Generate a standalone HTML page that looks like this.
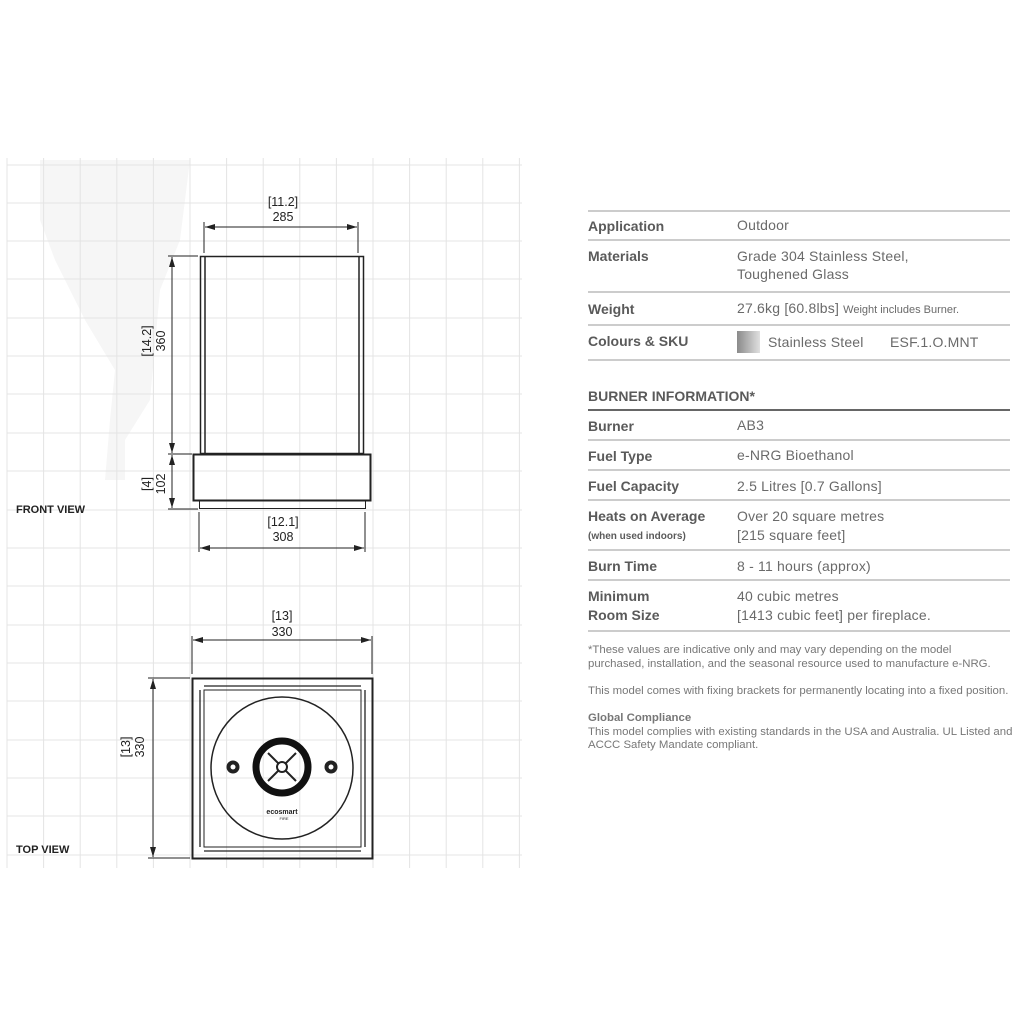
<!DOCTYPE html>
<html><head><style>
html,body{margin:0;padding:0;background:#fff;}
svg{display:block;}
text{font-family:"Liberation Sans",Arial,sans-serif;}
.l{font-weight:bold;fill:#5a5a5a;font-size:14px;}
.v{fill:#6a6a6a;font-size:14px;letter-spacing:0.2px;}
.d{fill:#222;font-size:12.5px;}
.s{fill:#777;font-size:11.4px;}
</style></head><body>
<svg width="1024" height="1024" viewBox="0 0 1024 1024" xmlns="http://www.w3.org/2000/svg">
<defs>
<marker id="a" viewBox="0 0 10 6" refX="10" refY="3" markerWidth="10" markerHeight="6" orient="auto-start-reverse" markerUnits="userSpaceOnUse"><path d="M0,0 L10,3 L0,6 z" fill="#222"/></marker>
<linearGradient id="g" x1="0" x2="1"><stop offset="0" stop-color="#8a8a8a"/><stop offset="1" stop-color="#e0e0e0"/></linearGradient>
</defs>
<!-- shadow blob -->
<path d="M40,160 L190,160 L180,240 L160,290 L150,400 L125,440 L125,480 L105,480 L110,420 L115,370 L85,320 L55,260 L40,220 Z" fill="#f6f6f6"/>
<!-- grid -->
<g stroke="#e4e4e4" stroke-width="1">
<line x1="7" y1="158" x2="7" y2="868"/><line x1="43.6" y1="158" x2="43.6" y2="868"/><line x1="80.2" y1="158" x2="80.2" y2="868"/><line x1="116.8" y1="158" x2="116.8" y2="868"/><line x1="153.4" y1="158" x2="153.4" y2="868"/><line x1="190" y1="158" x2="190" y2="868"/><line x1="226.6" y1="158" x2="226.6" y2="868"/><line x1="263.2" y1="158" x2="263.2" y2="868"/><line x1="299.8" y1="158" x2="299.8" y2="868"/><line x1="336.4" y1="158" x2="336.4" y2="868"/><line x1="373" y1="158" x2="373" y2="868"/><line x1="409.6" y1="158" x2="409.6" y2="868"/><line x1="446.2" y1="158" x2="446.2" y2="868"/><line x1="482.8" y1="158" x2="482.8" y2="868"/><line x1="519.4" y1="158" x2="519.4" y2="868"/>
<line x1="7" y1="165" x2="522" y2="165"/><line x1="7" y1="203" x2="522" y2="203"/><line x1="7" y1="241" x2="522" y2="241"/><line x1="7" y1="279" x2="522" y2="279"/><line x1="7" y1="318" x2="522" y2="318"/><line x1="7" y1="356" x2="522" y2="356"/><line x1="7" y1="394" x2="522" y2="394"/><line x1="7" y1="433" x2="522" y2="433"/><line x1="7" y1="471" x2="522" y2="471"/><line x1="7" y1="510" x2="522" y2="510"/><line x1="7" y1="548" x2="522" y2="548"/><line x1="7" y1="586" x2="522" y2="586"/><line x1="7" y1="625" x2="522" y2="625"/><line x1="7" y1="663" x2="522" y2="663"/><line x1="7" y1="701" x2="522" y2="701"/><line x1="7" y1="740" x2="522" y2="740"/><line x1="7" y1="778" x2="522" y2="778"/><line x1="7" y1="816" x2="522" y2="816"/><line x1="7" y1="855" x2="522" y2="855"/>
</g>
<!-- FRONT VIEW -->
<g stroke="#222" fill="none">
<rect x="200.5" y="256.5" width="163" height="197" stroke-width="1.5"/>
<line x1="205" y1="257" x2="205" y2="454" stroke-width="1.5"/>
<line x1="359" y1="257" x2="359" y2="454" stroke-width="1.5"/>
<rect x="193.5" y="454.5" width="177" height="46" stroke-width="2"/>
<rect x="199.5" y="500.5" width="166" height="8" stroke-width="1"/>
<g stroke-width="1">
<line x1="204" y1="222" x2="204" y2="253"/><line x1="358" y1="222" x2="358" y2="253"/>
<line x1="205" y1="227" x2="357" y2="227" marker-start="url(#a)" marker-end="url(#a)"/>
<line x1="168" y1="256" x2="198" y2="256"/><line x1="168" y1="454" x2="192" y2="454"/><line x1="168" y1="509" x2="198" y2="509"/>
<line x1="172" y1="257" x2="172" y2="453" marker-start="url(#a)" marker-end="url(#a)"/>
<line x1="172" y1="455" x2="172" y2="508" marker-start="url(#a)" marker-end="url(#a)"/>
<line x1="199" y1="512" x2="199" y2="552"/><line x1="365" y1="512" x2="365" y2="552"/>
<line x1="200" y1="548" x2="364" y2="548" marker-start="url(#a)" marker-end="url(#a)"/>
</g>
</g>
<text class="d" x="283" y="206" text-anchor="middle">[11.2]</text>
<text class="d" x="283" y="221" text-anchor="middle">285</text>
<text class="d" transform="translate(151,341) rotate(-90)" text-anchor="middle">[14.2]</text>
<text class="d" transform="translate(165,341) rotate(-90)" text-anchor="middle">360</text>
<text class="d" transform="translate(151,484) rotate(-90)" text-anchor="middle">[4]</text>
<text class="d" transform="translate(165,484) rotate(-90)" text-anchor="middle">102</text>
<text class="d" x="283" y="526" text-anchor="middle">[12.1]</text>
<text class="d" x="283" y="541" text-anchor="middle">308</text>
<text x="16" y="513" font-size="11" font-weight="bold" fill="#222">FRONT VIEW</text>
<!-- TOP VIEW -->
<g stroke="#222" fill="none">
<rect x="192.5" y="678.5" width="180" height="180" stroke-width="2"/>
<rect x="204" y="690" width="157" height="157" stroke-width="1"/>
<line x1="204" y1="686" x2="361" y2="686" stroke-width="1.3"/><line x1="204" y1="851" x2="361" y2="851" stroke-width="1.3"/>
<line x1="200" y1="690" x2="200" y2="847" stroke-width="1.3"/><line x1="365" y1="690" x2="365" y2="847" stroke-width="1.3"/>
<circle cx="282" cy="768" r="71" stroke-width="1.5"/>
<circle cx="282" cy="767" r="26" stroke="#111" stroke-width="7"/>
<line x1="268" y1="753" x2="296" y2="781" stroke-width="2"/><line x1="296" y1="753" x2="268" y2="781" stroke-width="2"/>
<circle cx="282" cy="767" r="5" fill="#fff" stroke-width="2"/>
<circle cx="233" cy="767" r="6" fill="#222" stroke-width="1"/>
<circle cx="331" cy="767" r="6" fill="#222" stroke-width="1"/>
<g stroke-width="1">
<line x1="192" y1="636" x2="192" y2="674"/><line x1="372" y1="636" x2="372" y2="674"/>
<line x1="193" y1="640" x2="371" y2="640" marker-start="url(#a)" marker-end="url(#a)"/>
<line x1="148" y1="678" x2="190" y2="678"/><line x1="148" y1="858" x2="190" y2="858"/>
<line x1="153" y1="679" x2="153" y2="857" marker-start="url(#a)" marker-end="url(#a)"/>
</g>
</g>
<circle cx="233" cy="767" r="2.5" fill="#fff"/><circle cx="331" cy="767" r="2.5" fill="#fff"/>
<text x="282" y="814" font-size="7" font-weight="bold" fill="#222" text-anchor="middle">ecosmart</text>
<text x="284" y="820" font-size="4" fill="#222" text-anchor="middle">FIRE</text>
<text class="d" x="282" y="620" text-anchor="middle">[13]</text>
<text class="d" x="282" y="636" text-anchor="middle">330</text>
<text class="d" transform="translate(130,747) rotate(-90)" text-anchor="middle">[13]</text>
<text class="d" transform="translate(144,747) rotate(-90)" text-anchor="middle">330</text>
<text x="16" y="853" font-size="11" font-weight="bold" fill="#222">TOP VIEW</text>
<!-- TABLE -->
<g stroke="#9a9a9a" stroke-width="1">
<line x1="588" y1="211" x2="1010" y2="211"/><line x1="588" y1="240" x2="1010" y2="240"/><line x1="588" y1="292" x2="1010" y2="292"/><line x1="588" y1="325" x2="1010" y2="325"/><line x1="588" y1="360" x2="1010" y2="360"/>
<line x1="588" y1="410" x2="1010" y2="410" stroke="#666" stroke-width="2"/>
<line x1="588" y1="440" x2="1010" y2="440"/><line x1="588" y1="470" x2="1010" y2="470"/><line x1="588" y1="500" x2="1010" y2="500"/><line x1="588" y1="550" x2="1010" y2="550"/><line x1="588" y1="580" x2="1010" y2="580"/><line x1="588" y1="631" x2="1010" y2="631"/>
</g>
<text class="l" x="588" y="231">Application</text><text class="v" x="737" y="230">Outdoor</text>
<text class="l" x="588" y="261">Materials</text><text class="v" x="737" y="261">Grade 304 Stainless Steel,</text><text class="v" x="737" y="279">Toughened Glass</text>
<text class="l" x="588" y="314">Weight</text><text class="v" x="737" y="313">27.6kg [60.8lbs] <tspan font-size="11" letter-spacing="0">Weight includes Burner.</tspan></text>
<rect x="737" y="331" width="23" height="22" fill="url(#g)"/>
<text class="l" x="588" y="346">Colours &amp; SKU</text><text class="v" x="768" y="347">Stainless Steel</text><text class="v" x="890" y="347">ESF.1.O.MNT</text>
<text class="l" x="588" y="401">BURNER INFORMATION*</text>
<text class="l" x="588" y="431">Burner</text><text class="v" x="737" y="430">AB3</text>
<text class="l" x="588" y="461">Fuel Type</text><text class="v" x="737" y="460">e-NRG Bioethanol</text>
<text class="l" x="588" y="491">Fuel Capacity</text><text class="v" x="737" y="491">2.5 Litres [0.7 Gallons]</text>
<text class="l" x="588" y="521">Heats on Average</text><text x="588" y="539" font-size="10" font-weight="bold" fill="#5a5a5a">(when used indoors)</text>
<text class="v" x="737" y="521">Over 20 square metres</text><text class="v" x="737" y="540">[215 square feet]</text>
<text class="l" x="588" y="571">Burn Time</text><text class="v" x="737" y="571">8 - 11 hours (approx)</text>
<text class="l" x="588" y="601">Minimum</text><text class="l" x="588" y="620">Room Size</text>
<text class="v" x="737" y="601">40 cubic metres</text><text class="v" x="737" y="620">[1413 cubic feet] per fireplace.</text>
<text class="s" x="588" y="653">*These values are indicative only and may vary depending on the model</text>
<text class="s" x="588" y="667">purchased, installation, and the seasonal resource used to manufacture e-NRG.</text>
<text class="s" x="588" y="694">This model comes with fixing brackets for permanently locating into a fixed position.</text>
<text class="s" x="588" y="721" font-weight="bold" fill="#555">Global Compliance</text>
<text class="s" x="588" y="735">This model complies with existing standards in the USA and Australia. UL Listed and</text>
<text class="s" x="588" y="748">ACCC Safety Mandate compliant.</text>
</svg>
</body></html>
